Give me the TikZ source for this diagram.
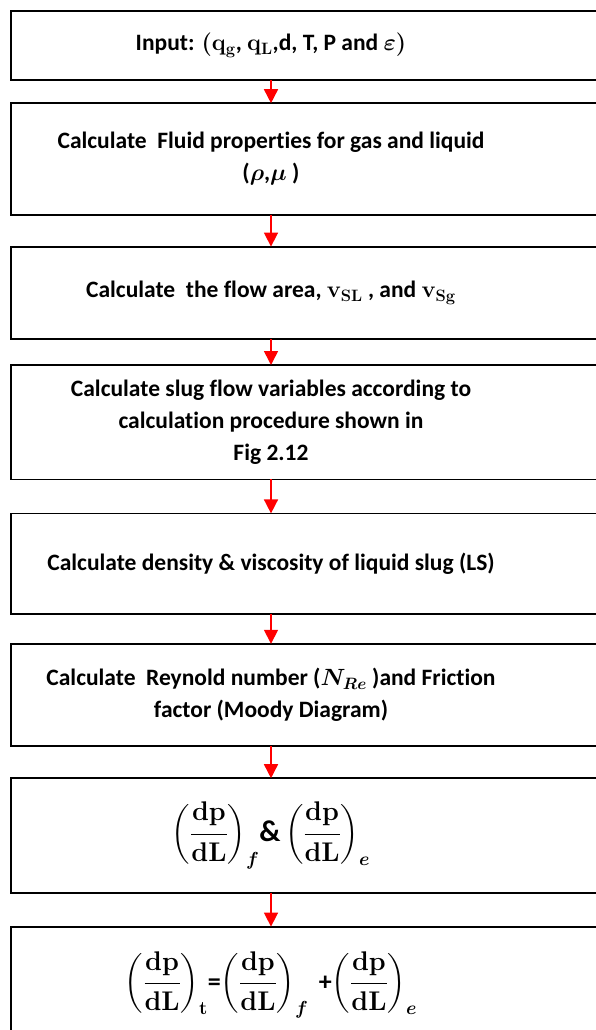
\documentclass[tikz,border=0pt]{standalone}
\usepackage{fix-cm}
\usepackage{amsmath}
\usepackage[no-math]{fontspec}
\setmainfont[Ligatures=NoCommon]{Carlito}
\usetikzlibrary{arrows.meta, positioning}
\tikzset{
  stage/.style={rectangle, inner sep=0pt, align=center, minimum width=480pt,
    font=\bfseries\boldmath\fontsize{23.5}{32}\selectfont},
  boxline/.style={draw=black, line width=1.8pt},
  flowarrow/.style={-{Triangle[length=14pt, width=14pt]}, red, line width=1.6pt}
}
\newcommand{\dpdl}{\left(\frac{\mathbf{dp}}{\mathbf{dL}}\right)}

\begin{document}
\begin{tikzpicture}[x=1pt, y=-1pt]
  \useasboundingbox (0,0) rectangle (596,1030);
  \clip (0,0) rectangle (596,1030);
  \coordinate (L) at (11,0);
  \coordinate (R) at (640,0);

  \node[stage, minimum height=69pt] (s1) at (271,45.5)
    {Input: $(\mathbf{q_g}$, $\mathbf{q_L}$,d, T, P and $\varepsilon)$};
  \node[stage, minimum height=111pt, below=23pt of s1] (s2)
    {Calculate\ \ Fluid properties for gas and liquid\\ ($\rho$,$\mu$ )};
  \node[stage, minimum height=92pt, below=32pt of s2] (s3)
    {Calculate\ \ the flow area, $\mathbf{v}_{\mathbf{SL}}$ , and $\mathbf{v}_{\mathbf{Sg}}$};
  \node[stage, minimum height=114pt, below=26pt of s3] (s4)
    {Calculate slug flow variables according to\\ calculation procedure shown in\\ Fig 2.12};
  \node[stage, minimum height=100pt, below=34pt of s4] (s5)
    {Calculate density \& viscosity of liquid slug (LS)};
  \node[stage, minimum height=102pt, below=30pt of s5] (s6)
    {Calculate\ \ Reynold number ($N_{Re}$ )and Friction\\ factor (Moody Diagram)};
  \node[stage, minimum height=114pt, below=32pt of s6, font=\bfseries\boldmath\fontsize{27}{32}\selectfont] (s7)
    {$\displaystyle\dpdl_{f}${\fontsize{30}{32}\selectfont\&}\,$\displaystyle\dpdl_{e}$};
  \node[stage, minimum height=116pt, below=34pt of s7, font=\bfseries\boldmath\fontsize{27}{32}\selectfont] (s8)
    {$\displaystyle\dpdl_{\mathbf{t}}${\fontsize{26}{30}\selectfont=}$\displaystyle\dpdl_{f}$\ \,{\fontsize{26}{30}\selectfont+}$\displaystyle\dpdl_{e}$};

  % boxes run past the right edge
  \foreach \n in {1,...,8}
    \draw[boxline] (s\n.north -| L) rectangle (s\n.south -| R);

  \foreach \a/\b in {s1/s2, s2/s3, s3/s4, s4/s5, s5/s6, s6/s7, s7/s8}
    \draw[flowarrow] (\a) -- (\b);
\end{tikzpicture}
\end{document}
